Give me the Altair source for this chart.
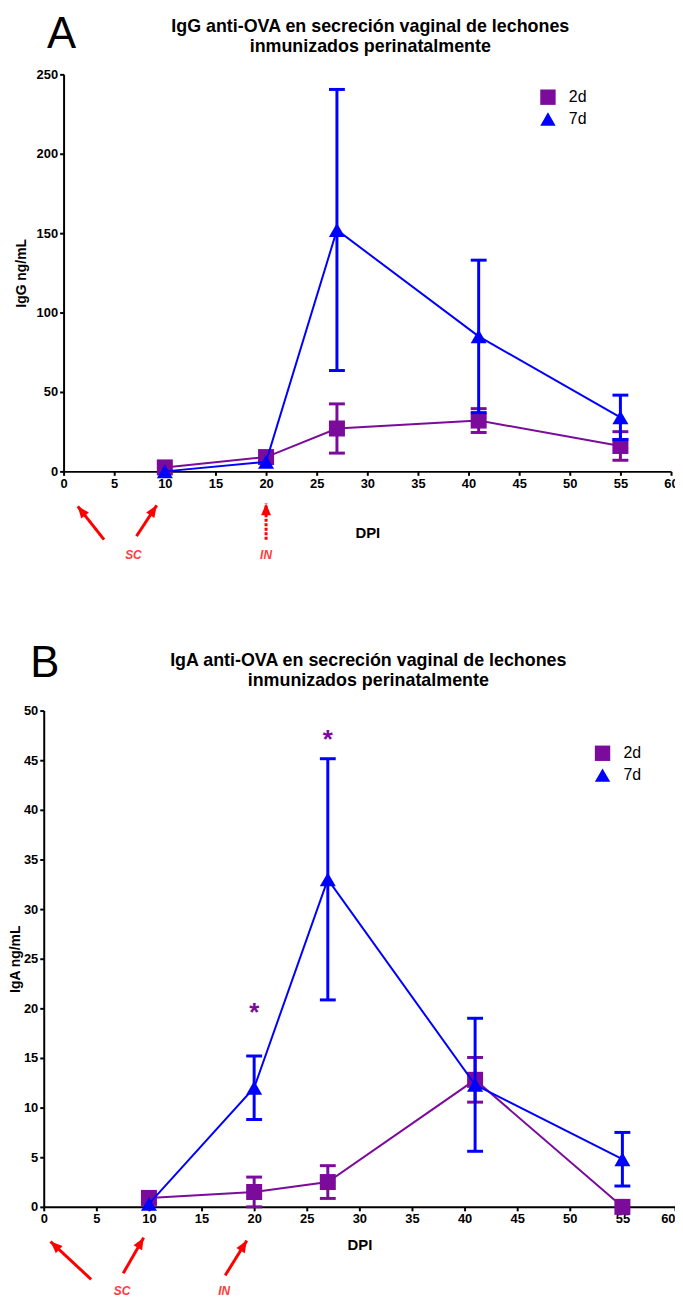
import math
import altair as alt
import pandas as pd

# ---------------- data ----------------
dpi = [10, 20, 27, 41, 55]
series_names = ["2d", "7d"]

igg_2d = [2.5, 9, 27, 32, 16]
igg_2d_sem = [0, 0, 15.5, 7.5, 9]
igg_7d = [0, 6, 152, 85, 34]
igg_7d_sem = [0, 0, 88.5, 48, 14]

iga_2d = [0.9, 1.5, 2.5, 12.8, 0]
iga_2d_sem = [0, 1.5, 1.65, 2.25, 0]
iga_7d = [0.3, 12.0, 33.0, 12.3, 4.8]
iga_7d_sem = [0, 3.2, 12.15, 6.7, 2.7]

x_ticks = list(range(0, 61, 5))
igg_ticks = [0, 50, 100, 150, 200, 250]
iga_ticks = list(range(0, 51, 5))

star_dpi = [20, 27]
star_iga = [20.0, 47.5]

igg_title = ["IgG anti-OVA en secreción vaginal de lechones", "inmunizados perinatalmente"]
iga_title = ["IgA anti-OVA en secreción vaginal de lechones", "inmunizados perinatalmente"]

# annotation arrows below the x axis, in data units (tail -> head)
arrow_kind = ["SC", "SC", "IN"]
igg_arrow_tail_x = [4.0, 7.2, 20.0]
igg_arrow_tail_y = [-43.0, -40.8, -43.0]
igg_arrow_head_x = [1.4, 9.2, 20.0]
igg_arrow_head_y = [-22.0, -21.4, -20.2]
iga_arrow_tail_x = [4.5, 7.55, 17.25]
iga_arrow_tail_y = [-7.3, -6.7, -6.9]
iga_arrow_head_x = [0.65, 9.5, 19.3]
iga_arrow_head_y = [-3.5, -3.1, -3.4]

label_text = ["SC", "IN"]
igg_label_x = [6.9, 20.0]
igg_label_y = [-52.7, -52.7]
iga_label_x = [7.45, 17.15]
iga_label_y = [-8.5, -8.5]

# ---------------- styling ----------------
PURPLE = "#7B0B9B"
BLUE = "#0000FF"
RED = "#FF0000"
LABEL_RED = "#FF3B3B"
FONT = "Liberation Sans"
SERIES_COLORS = [PURPLE, BLUE]
SERIES_SHAPES = ["square", "triangle-up"]
HEAD_PATH = "M0,0L0.42,1L-0.42,1Z"


def make_df(m2, s2, m7, s7):
    rows = []
    for name, means, sems in (("2d", m2, s2), ("7d", m7, s7)):
        for d, m, s in zip(dpi, means, sems):
            rows.append({"dpi": d, "value": m, "lo": m - s, "hi": m + s, "series": name})
    return pd.DataFrame(rows)


def panel(df, title_lines, ytitle, ydomain, yticks, width, height, xrange,
          yoffset, ytitle_pad, xtitle_pad, last_label_right,
          legend_x, legend_y, tails_x, tails_y, heads_x, heads_y,
          lab_x, lab_y, in_dashed, letter, letter_x, letter_y,
          title_x, title_y, stars=None):
    xs = alt.Scale(domain=[0, 60], range=xrange)
    ys = alt.Scale(domain=ydomain)
    xax = alt.Axis(values=x_ticks, title="DPI", titlePadding=xtitle_pad,
                   titleFontSize=15, labelPadding=2,
                   labelAlign=alt.expr("datum.value >= 60 ? 'right' : 'center'") if last_label_right else "center")
    yax = alt.Axis(values=yticks, title=ytitle, offset=yoffset,
                   titlePadding=ytitle_pad, titleFontSize=14, labelPadding=2)
    leg = alt.Legend(title=None, orient="none", legendX=legend_x, legendY=legend_y,
                     labelFont=FONT, labelFontSize=16, labelColor="black",
                     symbolSize=240, rowPadding=6, padding=0, labelOffset=13,
                     symbolStrokeWidth=0)
    cscale = alt.Scale(domain=series_names, range=SERIES_COLORS)
    sscale = alt.Scale(domain=series_names, range=SERIES_SHAPES)

    def X(field):
        return alt.X(field, scale=xs, axis=xax)

    def Y(field):
        return alt.Y(field, scale=ys, axis=yax)

    base = alt.Chart(df)
    layers = []
    for name, col in zip(series_names, SERIES_COLORS):
        sub = base.transform_filter(alt.datum.series == name)
        layers.append(sub.mark_line(color=col, strokeWidth=2).encode(
            x=X("dpi:Q"), y=Y("value:Q")))
        err = sub.transform_filter("datum.hi > datum.lo")
        layers.append(err.mark_rule(color=col, strokeWidth=3).encode(
            x=X("dpi:Q"), y=Y("lo:Q"), y2="hi:Q"))
        layers.append(err.transform_fold(["lo", "hi"], as_=["end", "cap"]).mark_tick(
            color=col, orient="horizontal", size=16, thickness=3, opacity=1).encode(
            x=X("dpi:Q"), y=Y("cap:Q")))
        layers.append(sub.mark_point(filled=True, size=260, opacity=1).encode(
            x=X("dpi:Q"), y=Y("value:Q"),
            color=alt.Color("series:N", scale=cscale, legend=leg),
            shape=alt.Shape("series:N", scale=sscale, legend=leg)))

    # arrows
    kx = (xrange[1] - xrange[0]) / 60.0
    ky = height / float(ydomain[1] - ydomain[0])
    angles = [math.degrees(math.atan2((hx - tx) * kx, (hy - ty) * ky))
              for tx, ty, hx, hy in zip(tails_x, tails_y, heads_x, heads_y)]
    adf = pd.DataFrame({"tx": tails_x, "ty": tails_y, "hx": heads_x, "hy": heads_y,
                        "angle": angles, "kind": arrow_kind})
    dash = alt.condition(alt.datum.kind == "IN", alt.value([3, 1.5]), alt.value([1, 0])) if in_dashed else alt.value([1, 0])
    layers.append(alt.Chart(adf).mark_rule(color=RED, strokeWidth=3).encode(
        x=X("tx:Q"), y=Y("ty:Q"), x2="hx:Q", y2="hy:Q", strokeDash=dash))
    layers.append(alt.Chart(adf).mark_point(shape=HEAD_PATH, filled=True, color=RED,
                                            size=560, opacity=1).encode(
        x=X("hx:Q"), y=Y("hy:Q"), angle=alt.Angle("angle:Q", scale=None)))
    ldf = pd.DataFrame({"x": lab_x, "y": lab_y, "t": label_text})
    layers.append(alt.Chart(ldf).mark_text(color=LABEL_RED, font=FONT, fontSize=12,
                                           fontWeight="bold", fontStyle="italic",
                                           baseline="middle").encode(
        x=X("x:Q"), y=Y("y:Q"), text="t:N"))

    if stars is not None:
        sdf = pd.DataFrame({"x": stars[0], "y": stars[1], "t": ["*"] * len(stars[0])})
        layers.append(alt.Chart(sdf).mark_text(color=PURPLE, font=FONT, fontSize=26,
                                               fontWeight="bold", baseline="middle", dy=5).encode(
            x=X("x:Q"), y=Y("y:Q"), text="t:N"))

    # panel letter and two-line title (one text mark per line)
    letter_df = pd.DataFrame({"t": [letter]})
    layers.append(alt.Chart(letter_df).mark_text(font=FONT, fontSize=44, color="black",
                                                 baseline="middle", align="center").encode(
        x=alt.value(letter_x), y=alt.value(letter_y), text="t:N"))
    for i, line in enumerate(title_lines):
        tdf = pd.DataFrame({"t": [line]})
        layers.append(alt.Chart(tdf).mark_text(font=FONT, fontSize=18, fontWeight="bold",
                                               color="black", baseline="middle",
                                               align="center").encode(
            x=alt.value(title_x), y=alt.value(title_y + 20 * i), text="t:N"))

    return alt.layer(*layers).properties(width=width, height=height)


top = panel(make_df(igg_2d, igg_2d_sem, igg_7d, igg_7d_sem),
            igg_title, "IgG ng/mL", [0, 250], igg_ticks, 632, 400, [20, 632],
            -20, 8, 36, False,
            500, 15, igg_arrow_tail_x, igg_arrow_tail_y, igg_arrow_head_x, igg_arrow_head_y,
            igg_label_x, igg_label_y, True, "A", 18, -40, 329, -48)

bottom = panel(make_df(iga_2d, iga_2d_sem, iga_7d, iga_7d_sem),
               iga_title, "IgA ng/mL", [0, 50], iga_ticks, 636, 500, [0, 636],
               0, 1, 12, True,
               555, 35, iga_arrow_tail_x, iga_arrow_tail_y, iga_arrow_head_x, iga_arrow_head_y,
               iga_label_x, iga_label_y, False, "B", 1, -47, 327, -50,
               stars=(star_dpi, star_iga))

chart = alt.vconcat(top, bottom, spacing=241, bounds="flush").resolve_scale(
    x="independent", y="independent", color="independent", shape="independent"
).properties(
    padding={"left": 0, "top": 0, "right": -4, "bottom": 0}
).configure_view(stroke=None).configure_axis(
    grid=False, domainColor="black", domainWidth=2, tickColor="black", tickWidth=2,
    tickSize=4, labelFont=FONT, labelFontWeight="bold", labelFontSize=13,
    labelColor="black", titleFont=FONT, titleFontWeight="bold", titleColor="black"
)

chart.save("out.html", embed_options={"renderer": "svg", "actions": False})
